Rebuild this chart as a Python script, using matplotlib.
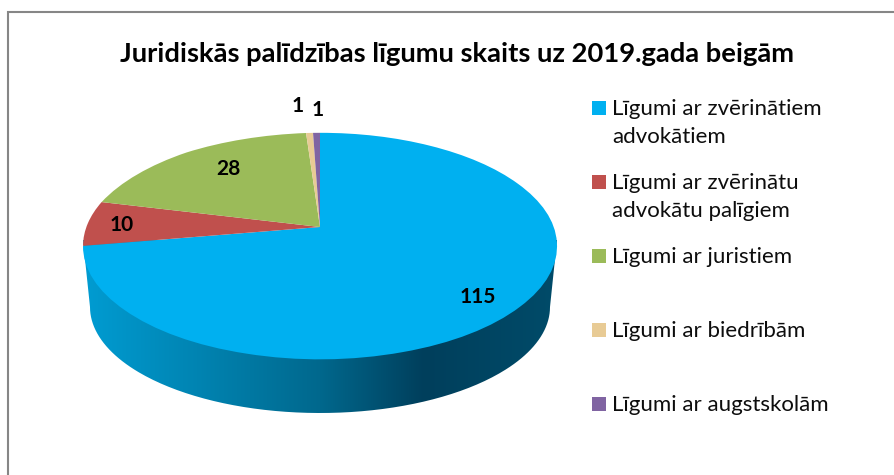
import numpy as np
import matplotlib
matplotlib.use("Agg")
import matplotlib.pyplot as plt
from matplotlib.colors import LinearSegmentedColormap
from matplotlib.patches import PathPatch, Rectangle
from matplotlib.path import Path
from matplotlib.transforms import Transform

plt.rcParams['font.family'] = ['Lato', 'DejaVu Sans']

title = "Juridiskās palīdzības līgumu skaits uz 2019.gada beigām"
labels = ["Līgumi ar zvērinātiem\nadvokātiem", "Līgumi ar zvērinātu\nadvokātu palīgiem",
          "Līgumi ar juristiem", "Līgumi ar biedrībām", "Līgumi ar augstskolām"]
values = [115, 10, 28, 1, 1]
colors = ["#00B0F0", "#C0504D", "#9BBB59", "#E8CB95", "#8064A2"]
# apparent sweep of each slice in the tilted 3-D view
sweep_gain = [0.975, 1.0, 1.113, 0.86, 0.86]
value_pos = [(478, 297), (122, 225), (228, 169), (298, 106), (318, 110)]

W, H = 895, 475
CX, CY = 320, 227
A, B, K = 233.6, 110.0, 0.168


class TiltedPie(Transform):
    input_dims = output_dims = 2
    is_affine = False
    has_inverse = False

    def __init__(self, vals, gains):
        super().__init__()
        v = np.asarray(vals, float)
        g = v * np.asarray(gains)
        self.src = np.r_[0, np.cumsum(v)] / v.sum() * 360
        self.dst = np.r_[0, np.cumsum(g)] / g.sum() * 360

    def transform_non_affine(self, xy):
        xy = np.asarray(xy, float)
        r = np.hypot(xy[:, 0], xy[:, 1])
        th = np.degrees(np.arctan2(xy[:, 0], xy[:, 1])) % 360
        th = np.radians(np.interp(th, self.src, self.dst))
        u, w = r * np.sin(th), r * np.cos(th)
        d = 1 + K * w
        return np.c_[CX + A * u / d, CY - B * w / d]


fig = plt.figure(figsize=(W / 100, H / 100), dpi=100)
ax = fig.add_axes([0, 0, 1, 1])

# side wall of the pie
rx, ry, cy2 = 230, 106, 307
t = np.linspace(np.pi, 0, 200)
side = np.r_[[[83, 240]], [[90, cy2]],
             np.c_[CX + rx * np.cos(t), cy2 + ry * np.sin(t)],
             [[557, 240]]]
clip = PathPatch(Path(np.r_[side, [side[0]]]), transform=ax.transData, fc="none", ec="none")
ax.add_patch(clip)
cmap = LinearSegmentedColormap.from_list("side", [
    (0.00, "#009CD2"), (0.24, "#0084B2"), (0.50, "#00688D"),
    (0.72, "#003F5C"), (1.00, "#004B69")])
im = ax.imshow(np.linspace(0, 1, 256)[None, :], cmap=cmap, aspect="auto",
               extent=(83, 557, 420, 240), zorder=1, interpolation="bilinear")
im.set_clip_path(clip)

# top face
wedges, _ = ax.pie(values, colors=colors, startangle=90, counterclock=False,
                   wedgeprops=dict(linewidth=0, zorder=2))
tp = TiltedPie(values, sweep_gain)
for w in wedges:
    w.set_transform(tp + ax.transData)
    w.set_zorder(2)
    w.set_clip_on(False)

ax.set_aspect("auto")
ax.set_xlim(0, W)
ax.set_ylim(H, 0)
ax.axis("off")

# chart frame: only the left and top edges fall inside the picture
ax.plot([7.7, 7.7, W], [H, 12, 12], color="#868686", lw=1.5, zorder=5, solid_joinstyle="miter")

ax.text(457.5, 54, title, ha="center", va="center", fontsize=19.7, fontweight="bold", color="black")

for v, (x, y) in zip(values, value_pos):
    ax.text(x, y, str(v), ha="center", va="center", fontsize=15, fontweight="bold", color="black", zorder=4)

ys = [101, 175, 249, 323, 397]
for lab, col, y in zip(labels, colors, ys):
    ax.add_patch(Rectangle((592, y), 14, 14, fc=col, ec="none", zorder=3))
    for i, line in enumerate(lab.split("\n")):
        ax.text(612, y + 14 + i * 28, line, ha="left", va="baseline", fontsize=16, color="#0d0d0d")

fig.savefig("out.png", dpi=100)
